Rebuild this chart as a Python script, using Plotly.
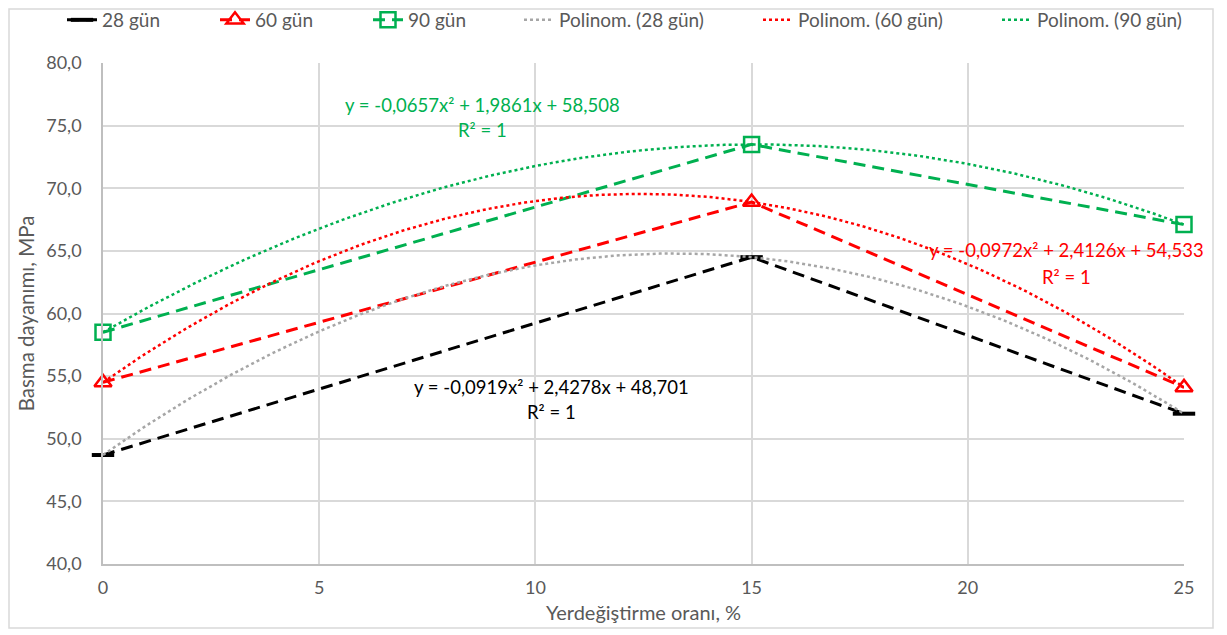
import numpy as np
import plotly.graph_objects as go

# ---- data ----
x_vals = [0, 15, 25]
y_28 = [48.7, 64.5, 52.0]
y_60 = [54.5, 68.9, 54.1]
y_90 = [58.5, 73.5, 67.1]

series_names = ["28 gün", "60 gün", "90 gün"]
trend_names = ["Polinom. (28 gün)", "Polinom. (60 gün)", "Polinom. (90 gün)"]
eq_texts = [
    "y = -0,0919x² + 2,4278x + 48,701",
    "y = -0,0972x² + 2,4126x + 54,533",
    "y = -0,0657x² + 1,9861x + 58,508",
]
r2_text = "R² = 1"
x_ticks = [0, 5, 10, 15, 20, 25]
y_ticks = [40, 45, 50, 55, 60, 65, 70, 75, 80]

FONT = "Lato"
BLACK = "#000000"
RED = "#FF0000"
GREEN = "#00B050"
GRAY = "#A6A6A6"
TXT = "#595959"

# page has an 8px body margin -> figure is sized to fit inside the window
OFF = 8
W, H = 1227 - OFF, 635 - OFF
L, R, T, B = 103 - OFF, 43, 63 - OFF, 71
pw, ph = W - L - R, H - T - B


def px2x(p):  # page pixel -> paper x
    return (p - OFF - L) / pw


def px2y(p):  # page pixel -> paper y
    return (H - B - (p - OFF)) / ph


fig = go.Figure()

# main series
fig.add_trace(go.Scatter(
    x=x_vals, y=y_28, name=series_names[0], mode="lines+markers", legend="legend",
    line=dict(color=BLACK, width=3, dash="12px,7px"),
    marker=dict(symbol="line-ew", size=16, line=dict(color=BLACK, width=4)),
    cliponaxis=False))
fig.add_trace(go.Scatter(
    x=x_vals, y=y_60, name=series_names[1], mode="lines+markers", legend="legend",
    line=dict(color=RED, width=3, dash="12px,7px"),
    marker=dict(symbol="triangle-up-open", size=15, color=RED, line=dict(color=RED, width=2.5)),
    cliponaxis=False))
fig.add_trace(go.Scatter(
    x=x_vals, y=y_90, name=series_names[2], mode="lines+markers", legend="legend",
    line=dict(color=GREEN, width=3, dash="12px,7px"),
    marker=dict(symbol="square-open", size=15, color=GREEN, line=dict(color=GREEN, width=2.5)),
    cliponaxis=False))

# polynomial trendlines (fitted from the data)
xs = np.linspace(0, 25, 201)
for ys, name, col in zip([y_28, y_60, y_90], trend_names, [GRAY, RED, GREEN]):
    c = np.polyfit(x_vals, ys, 2)
    fig.add_trace(go.Scatter(
        x=xs, y=np.polyval(c, xs), name=name, mode="lines", legend="legend2",
        line=dict(color=col, width=2.5, dash="dot"), cliponaxis=False))

# equation labels
ann = [
    (eq_texts[2], 8.77, 76.65, GREEN), (r2_text, 8.77, 74.65, GREEN),
    (eq_texts[0], 10.38, 54.13, BLACK), (r2_text, 10.38, 52.14, BLACK),
    (eq_texts[1], 22.29, 65.07, RED), (r2_text, 22.29, 62.91, RED),
]
for t, ax_, ay_, col in ann:
    fig.add_annotation(x=ax_, y=ay_, text=t, showarrow=False,
                       font=dict(family=FONT, size=18.5, color=col),
                       xanchor="center", yanchor="middle")

# outer border
fig.add_shape(type="rect", xref="paper", yref="paper",
              x0=px2x(OFF + 1), x1=px2x(1213), y0=px2y(628), y1=px2y(OFF + 1),
              line=dict(color="#D9D9D9", width=1.5), fillcolor="rgba(0,0,0,0)", layer="below")

leg_common = dict(orientation="h", yanchor="middle", y=px2y(20), xanchor="left",
                  font=dict(family=FONT, size=19, color=TXT),
                  bgcolor="rgba(0,0,0,0)", entrywidthmode="pixels")

fig.update_layout(
    width=W, height=H,
    margin=dict(l=L, r=R, t=T, b=B, autoexpand=False),
    paper_bgcolor="white", plot_bgcolor="white",
    separators=", ",
    font=dict(family=FONT, size=17, color=TXT),
    hovermode=False,
    legend=dict(x=px2x(62), entrywidth=108, **leg_common),
    legend2=dict(x=px2x(519), entrywidth=194, **leg_common),
    xaxis=dict(range=[0, 25], tickvals=x_ticks, showgrid=True, gridcolor="#D9D9D9", gridwidth=1.5,
               showline=True, linecolor="#BFBFBF", linewidth=1.5, zeroline=False,
               ticks="outside", ticklen=7, tickcolor="rgba(0,0,0,0)",
               tickfont=dict(family=FONT, size=18, color=TXT),
               title=dict(text="Yerdeğiştirme oranı, %", standoff=9,
                          font=dict(family=FONT, size=20, color=TXT))),
    yaxis=dict(range=[40, 80], tickvals=y_ticks, tickformat=".1f", showgrid=True,
               gridcolor="#D9D9D9", gridwidth=1.5,
               showline=True, linecolor="#BFBFBF", linewidth=1.5, zeroline=False,
               ticks="outside", ticklen=16, tickcolor="rgba(0,0,0,0)",
               tickfont=dict(family=FONT, size=18, color=TXT),
               title=dict(text="Basma dayanımı, MPa", standoff=6,
                          font=dict(family=FONT, size=20.5, color=TXT))),
)

fig.write_html("out.html")
